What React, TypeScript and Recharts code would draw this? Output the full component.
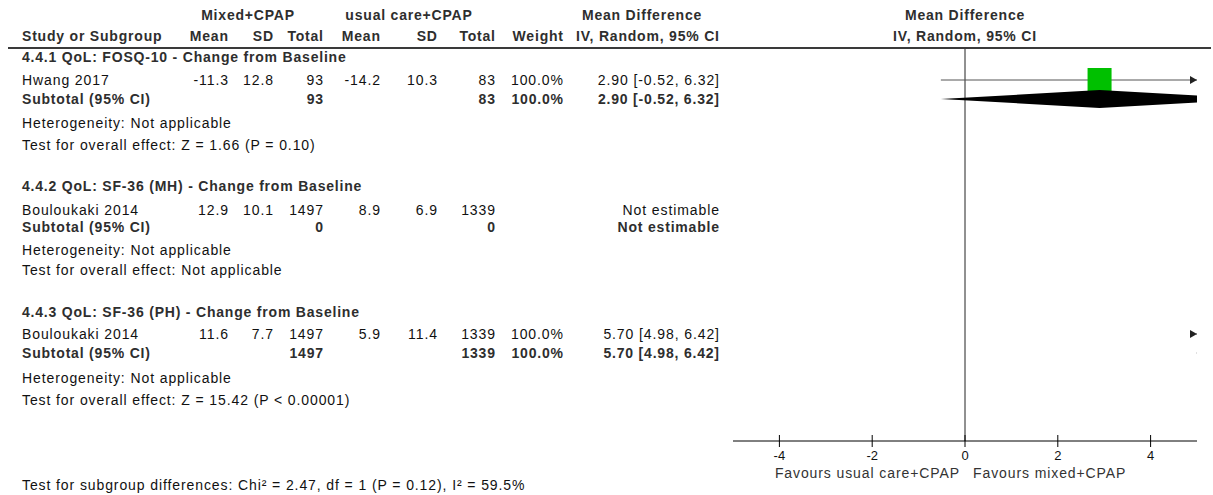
import React from "react";
import { ComposedChart, ReferenceLine, Scatter, XAxis, YAxis } from "recharts";

// ---- data ----
const subgroupTitles = [
  "4.4.1 QoL: FOSQ-10 - Change from Baseline",
  "4.4.2 QoL: SF-36 (MH) - Change from Baseline",
  "4.4.3 QoL: SF-36 (PH) - Change from Baseline",
];
const studyNames = ["Hwang 2017", "Bouloukaki 2014", "Bouloukaki 2014"];
const expMean = [-11.3, 12.9, 11.6];
const expSD = [12.8, 10.1, 7.7];
const expTotal = [93, 1497, 1497];
const ctlMean = [-14.2, 8.9, 5.9];
const ctlSD = [10.3, 6.9, 11.4];
const ctlTotal = [83, 1339, 1339];
const weights: (number | null)[] = [100, null, 100];
const meanDiff: (number | null)[] = [2.9, null, 5.7];
const ciLow: (number | null)[] = [-0.52, null, 4.98];
const ciHigh: (number | null)[] = [6.32, null, 6.42];
const subExpTotal = [93, 0, 1497];
const subCtlTotal = [83, 0, 1339];
const heterogeneity = ["Not applicable", "Not applicable", "Not applicable"];
const overallEffect = ["Z = 1.66 (P = 0.10)", "Not applicable", "Z = 15.42 (P < 0.00001)"];
const subgroupDiff = "Chi² = 2.47, df = 1 (P = 0.12), I² = 59.5%";
const xTicks = [-4, -2, 0, 2, 4];
const X_DOMAIN: [number, number] = [-5, 5];

// ---- layout (vertical centre of each text line, px from top) ----
const PLOT_TOP = 48;
const AXIS_Y = 441;
const groupRows = [
  { head: 57, study: 80, subtotal: 99, het: 123, test: 145 },
  { head: 186, study: 210, subtotal: 227, het: 250, test: 270 },
  { head: 312, study: 334, subtotal: 353, het: 378, test: 400 },
];
const FOOT_Y = 485;
const col = {
  left: 22,
  expMean: 228,
  expSD: 273,
  expTotal: 323,
  ctlMean: 380,
  ctlSD: 437,
  ctlTotal: 495,
  weight: 563,
  ci: 719,
};

const FONT = '"Liberation Sans", Arial, sans-serif';
const fmt1 = (v: number) => v.toFixed(1);
const fmt2 = (v: number) => v.toFixed(2);

type TProps = {
  x: number;
  y: number;
  align?: "left" | "right" | "center";
  bold?: boolean;
  color?: string;
  children: React.ReactNode;
};

const T = ({ x, y, align = "left", bold, color, children }: TProps) => {
  const w = 400;
  const ls = bold ? 0.8 : 0.9;
  const left = align === "left" ? x : align === "right" ? x - w + ls : x - w / 2;
  return (
    <div
      style={{
        position: "absolute",
        top: y - 8,
        left,
        width: w,
        lineHeight: "16px",
        fontSize: 14,
        fontFamily: FONT,
        fontWeight: bold ? 700 : 400,
        letterSpacing: ls,
        whiteSpace: "nowrap",
        textAlign: align,
        color: color ?? (bold ? "#2e2e2e" : "#111"),
      }}
    >
      {children}
    </div>
  );
};

const TickCross = (props: any) => {
  const { x, y, payload } = props;
  return (
    <g>
      <line x1={x} x2={x} y1={y - 6} y2={y + 6} stroke="#000" />
      <text x={x} y={y + 19} textAnchor="middle" fontSize={13} fontFamily={FONT} fill="#111">
        {payload.value}
      </text>
    </g>
  );
};

const Nothing = () => <g />;

const App = () => {
  const studies = studyNames.map((_, i) => ({ i, y: groupRows[i].study }));
  const plotted = studies.filter((s) => meanDiff[s.i] !== null);

  const squares = plotted.map((s) => ({ x: meanDiff[s.i], y: s.y, w: weights[s.i] }));
  const arrows = plotted
    .filter((s) => (ciHigh[s.i] as number) > X_DOMAIN[1])
    .map((s) => ({ x: X_DOMAIN[1], y: s.y }));

  return (
    <div style={{ position: "absolute", left: 0, top: 0, width: 1213, height: 495, background: "#fff" }}>
      <ComposedChart
        width={1213}
        height={495}
        margin={{ top: PLOT_TOP, right: 16, bottom: 495 - AXIS_Y - 30, left: 733 }}
      >
        <XAxis
          type="number"
          dataKey="x"
          domain={X_DOMAIN}
          ticks={xTicks}
          interval={0}
          allowDataOverflow
          height={30}
          tickSize={0}
          tickMargin={0}
          tickLine={false}
          axisLine={{ stroke: "#000" }}
          tick={<TickCross />}
        />
        <YAxis type="number" dataKey="y" domain={[PLOT_TOP, AXIS_Y]} reversed hide allowDataOverflow />
        <ReferenceLine x={0} stroke="#222" />

        {plotted.map((s) => (
          <Scatter
            key={`ci-${s.i}`}
            data={[
              { x: ciLow[s.i], y: s.y },
              { x: ciHigh[s.i], y: s.y },
            ]}
            line={{ stroke: "#555", strokeWidth: 1 }}
            shape={Nothing}
            isAnimationActive={false}
          />
        ))}

        <Scatter
          data={squares}
          isAnimationActive={false}
          shape={(p: any) => {
            const side = 24 * Math.sqrt((p.payload.w ?? 0) / 100);
            return <rect x={p.cx - side / 2} y={p.cy - side / 2} width={side} height={side} fill="#00c000" />;
          }}
        />

        {plotted.map((s) => {
          const y = groupRows[s.i].subtotal;
          return (
            <Scatter
              key={`dia-${s.i}`}
              data={[
                { x: ciLow[s.i], y },
                { x: meanDiff[s.i], y: y - 9 },
                { x: ciHigh[s.i], y },
                { x: meanDiff[s.i], y: y + 9 },
              ]}
              line={(lp: any) => (
                <polygon
                  points={lp.points.map((pt: any) => `${pt.x},${pt.y}`).join(" ")}
                  fill="#000"
                  stroke="none"
                />
              )}
              shape={Nothing}
              isAnimationActive={false}
            />
          );
        })}

        <Scatter
          data={arrows}
          isAnimationActive={false}
          shape={(p: any) => (
            <polygon
              points={`${p.cx - 7},${p.cy - 4} ${p.cx},${p.cy} ${p.cx - 7},${p.cy + 4}`}
              fill="#222"
            />
          )}
        />
      </ComposedChart>

      {/* header */}
      <T x={248} y={15} align="center" bold>Mixed+CPAP</T>
      <T x={409} y={15} align="center" bold>usual care+CPAP</T>
      <T x={642} y={15} align="center" bold>Mean Difference</T>
      <T x={965} y={15} align="center" bold>Mean Difference</T>
      <T x={col.left} y={36} bold>Study or Subgroup</T>
      <T x={col.expMean} y={36} align="right" bold>Mean</T>
      <T x={col.expSD} y={36} align="right" bold>SD</T>
      <T x={col.expTotal} y={36} align="right" bold>Total</T>
      <T x={col.ctlMean} y={36} align="right" bold>Mean</T>
      <T x={col.ctlSD} y={36} align="right" bold>SD</T>
      <T x={col.ctlTotal} y={36} align="right" bold>Total</T>
      <T x={col.weight} y={36} align="right" bold>Weight</T>
      <T x={col.ci} y={36} align="right" bold>IV, Random, 95% CI</T>
      <T x={965} y={36} align="center" bold>IV, Random, 95% CI</T>
      <div style={{ position: "absolute", left: 8, top: 47, width: 1203, height: 2, background: "#3a3a3a" }} />

      {subgroupTitles.map((title, i) => {
        const r = groupRows[i];
        const md = meanDiff[i];
        const ci =
          md === null
            ? "Not estimable"
            : `${fmt2(md)} [${fmt2(ciLow[i] as number)}, ${fmt2(ciHigh[i] as number)}]`;
        const w = weights[i];
        return (
          <React.Fragment key={title}>
            <T x={col.left} y={r.head} bold>{title}</T>
            <T x={col.left} y={r.study}>{studyNames[i]}</T>
            <T x={col.expMean} y={r.study} align="right">{fmt1(expMean[i])}</T>
            <T x={col.expSD} y={r.study} align="right">{fmt1(expSD[i])}</T>
            <T x={col.expTotal} y={r.study} align="right">{expTotal[i]}</T>
            <T x={col.ctlMean} y={r.study} align="right">{fmt1(ctlMean[i])}</T>
            <T x={col.ctlSD} y={r.study} align="right">{fmt1(ctlSD[i])}</T>
            <T x={col.ctlTotal} y={r.study} align="right">{ctlTotal[i]}</T>
            {w !== null && <T x={col.weight} y={r.study} align="right">{fmt1(w)}%</T>}
            <T x={col.ci} y={r.study} align="right">{ci}</T>

            <T x={col.left} y={r.subtotal} bold>Subtotal (95% CI)</T>
            <T x={col.expTotal} y={r.subtotal} align="right" bold>{subExpTotal[i]}</T>
            <T x={col.ctlTotal} y={r.subtotal} align="right" bold>{subCtlTotal[i]}</T>
            {w !== null && <T x={col.weight} y={r.subtotal} align="right" bold>{fmt1(w)}%</T>}
            <T x={col.ci} y={r.subtotal} align="right" bold>{ci}</T>

            <T x={col.left} y={r.het}>Heterogeneity: {heterogeneity[i]}</T>
            <T x={col.left} y={r.test}>Test for overall effect: {overallEffect[i]}</T>
          </React.Fragment>
        );
      })}

      <T x={col.left} y={FOOT_Y}>Test for subgroup differences: {subgroupDiff}</T>
      <T x={959} y={473} align="right" color="#333">Favours usual care+CPAP</T>
      <T x={973} y={473} color="#333">Favours mixed+CPAP</T>
    </div>
  );
};

export default App;
